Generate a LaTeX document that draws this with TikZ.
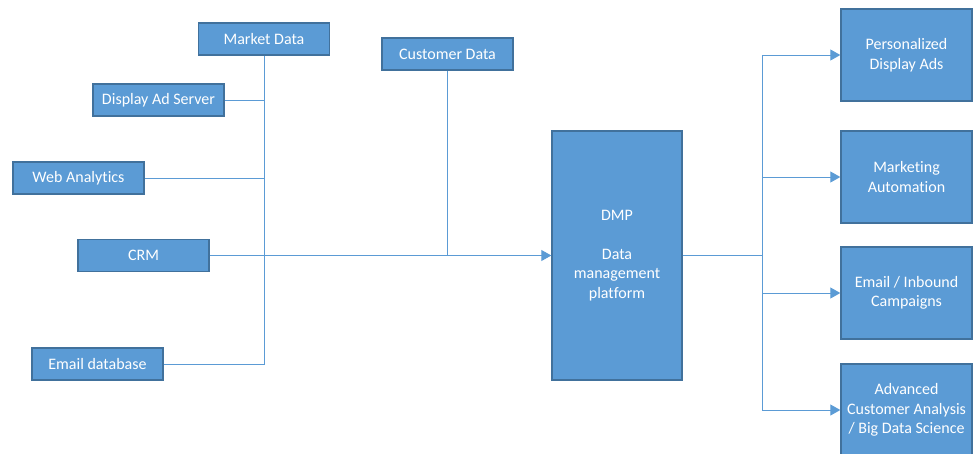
\documentclass[tikz,border=0pt]{standalone}
\usepackage{fontspec}
\setmainfont{Carlito}[Ligatures=NoCommon]
\usetikzlibrary{arrows.meta}
\definecolor{boxfill}{HTML}{5B9BD5}
\definecolor{boxline}{HTML}{41719C}
\definecolor{wirecol}{HTML}{5B9BD5}
\begin{document}
\begin{tikzpicture}[x=1pt,y=-1pt,
  blk/.style={draw=boxline, line width=1.4pt, fill=boxfill, text=white,
    font=\fontsize{16}{19.5}\selectfont, align=center, inner sep=0pt},
  src/.style={blk, minimum width=131pt, minimum height=32pt},
  tgt/.style={blk, minimum width=131pt, minimum height=92pt},
  wire/.style={draw=wirecol, line width=1pt},
  feed/.style={wire, -{Triangle[length=10pt,width=11pt]}}]
\useasboundingbox (0,0) rectangle (973,453);

% data sources
\node[src] (market)   at (264,39)    {Market Data};
\node[src] (adserver) at (158.5,100) {Display Ad Server};
\node[src] (webstats) at (78.5,178)  {Web Analytics};
\node[src] (crm)      at (143.5,255.5) {CRM};
\node[src] (emaildb)  at (97.5,364)  {Email database};
\node[src] (customer) at (447.5,54)  {Customer Data};

% platform
\node[blk, minimum width=130pt, minimum height=249pt] (dmp) at (617,255.5)
  {DMP\\\mbox{}\\Data\\management\\platform};

% applications
\node[tgt] (ads)     at (906.5,55)  {Personalized\\Display Ads};
\node[tgt] (auto)    at (906.5,177) {Marketing\\Automation};
\node[tgt] (inbound) at (906.5,293) {Email / Inbound\\Campaigns};
\node[tgt] (science) at (906.5,410) {Advanced\\Customer Analysis\\/ Big Data Science};

% collecting trunk on the left
\draw[wire] (market.south) -- (market.south |- emaildb.east) -- (emaildb.east);
\draw[wire] (adserver.east) -- (adserver.east -| market.south);
\draw[wire] (webstats.east) -- (webstats.east -| market.south);
\draw[wire] (customer.south) -- (customer.south |- dmp.west);
\draw[feed] (crm.east) -- (dmp.west);

% distribution trunk on the right
\coordinate (hub) at (762,255.5);
\draw[wire] (dmp.east) -- (hub);
\draw[wire] (hub |- ads.west) -- (hub |- science.west);
\draw[feed] (hub |- ads.west) -- (ads.west);
\draw[feed] (hub |- auto.west) -- (auto.west);
\draw[feed] (hub |- inbound.west) -- (inbound.west);
\draw[feed] (hub |- science.west) -- (science.west);
\end{tikzpicture}
\end{document}
